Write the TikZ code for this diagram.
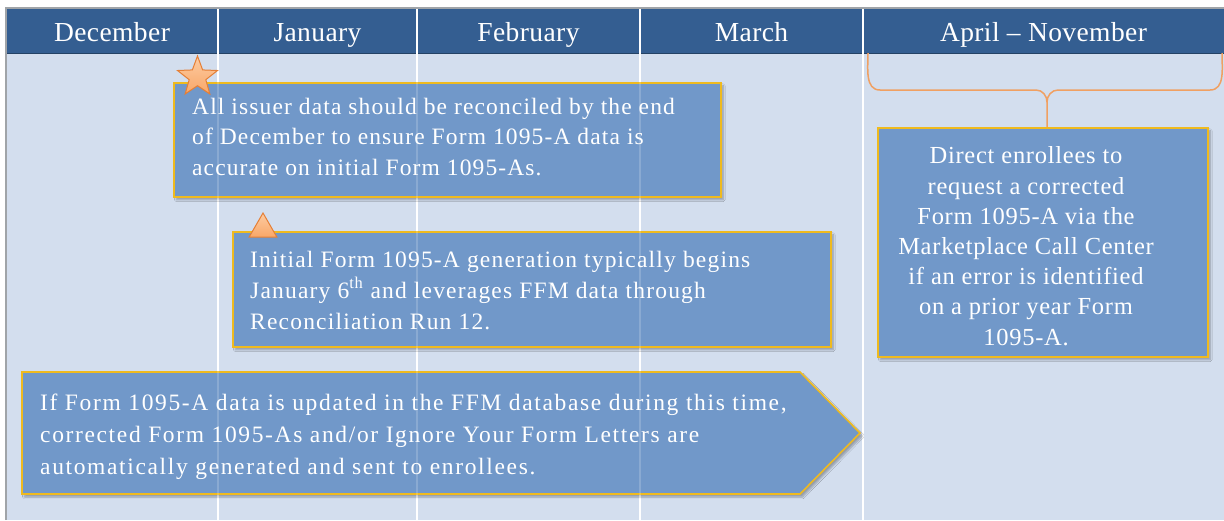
\documentclass[tikz,border=0pt]{standalone}
\usepackage{fontspec}
\setmainfont{Liberation Serif}
\newfontfamily\headfont[LetterSpace=1.5]{Liberation Serif}
\newfontfamily\afont[LetterSpace=4.8]{Liberation Serif}
\newfontfamily\bfont[LetterSpace=5.1]{Liberation Serif}
\newfontfamily\cfont[LetterSpace=7]{Liberation Serif}
\newfontfamily\sidefont[LetterSpace=3]{Liberation Serif}
\usetikzlibrary{shapes.geometric,shadows.blur}

\definecolor{headblue}{HTML}{345E91}
\definecolor{bodybg}{HTML}{D3DEEE}
\definecolor{boxfill}{HTML}{7198C9}
\definecolor{boxline}{HTML}{EFBA1E}
\definecolor{bracecol}{HTML}{F0A062}
\definecolor{starfill}{HTML}{F9A768}
\definecolor{starlight}{HTML}{FCCBA2}
\definecolor{starline}{HTML}{E57F36}
\definecolor{framegray}{HTML}{A0A4A8}

\tikzset{
  headcell/.style={fill=headblue, text=white, inner sep=0pt,
    minimum height=45pt, text height=26pt, text depth=5pt,
    font=\headfont\fontsize{27.5}{30}\selectfont},
  divider/.style={white, line width=1.4pt},
  infobox/.style={fill=boxfill, draw=boxline, line width=1.6pt, inner sep=0pt,
    blur shadow={shadow xshift=2.5pt, shadow yshift=-3pt, shadow blur steps=6, shadow opacity=30}},
  boxtext/.style={text=white, inner sep=0pt, align=left},
  sidetext/.style={text=white, inner sep=0pt, align=center,
    font=\sidefont\fontsize{24.5}{30.2}\selectfont},
  marker/.style={top color=starlight, bottom color=starfill, draw=starline,
    line width=1pt, inner sep=0pt},
  bracket/.style={draw=bracecol, line width=1.5pt}
}

\begin{document}
\begin{tikzpicture}[x=1pt,y=-1pt]
\useasboundingbox (0,0) rectangle (1224,520);
\fill[white] (0,0) rectangle (1224,520);
\fill[bodybg] (6,53) rectangle (1224,520);

% month header
\node[headcell, minimum width=212pt] (dec) at (112,30.5) {December};
\node[headcell, minimum width=199pt] (jan) at (317.5,30.5) {January};
\node[headcell, minimum width=223pt] (feb) at (528.5,30.5) {February};
\node[headcell, minimum width=223pt] (mar) at (751.5,30.5) {March};
\node[headcell, minimum width=361pt] (apr) at (1043.5,30.5) {April – November};
\draw[headblue!70!black, line width=1pt] (6,53) -- (1224,53);

% column dividers
\foreach \xx in {218,417,640,863}
  \draw[divider] (\xx,9) -- (\xx,520);

% outer frame
\draw[framegray, line width=1.3pt] (6,520) -- (6,8) -- (1224,8);

% brace over April - November
\node[infobox, minimum width=330pt, minimum height=229pt, anchor=north west] (dbox) at (877,127) {};
\coordinate (braceL) at (868,53);
\coordinate (braceR) at (1222,53);
\coordinate (braceM) at (1047,102);
\draw[bracket] (braceL) to[out=-90,in=180] (880,90) -- (1036,90)
  to[out=0,in=90] (braceM) -- (dbox.north -| braceM);
\draw[bracket] (braceR) to[out=-90,in=0] (1210,90) -- (1058,90)
  to[out=180,in=90] (braceM);

% info boxes
\node[infobox, minimum width=547pt, minimum height=114pt, anchor=north west] (abox) at (173,82) {};
\node[infobox, minimum width=598pt, minimum height=115pt, anchor=north west] (bbox) at (232,231) {};
\fill[boxfill, draw=boxline, line width=1.6pt,
  blur shadow={shadow xshift=2.5pt, shadow yshift=-3pt, shadow blur steps=6, shadow opacity=30}]
  (22,372) -- (800,372) -- (860,433) -- (800,494) -- (22,494) -- cycle;
\coordinate (cbox) at (22,433);

% faint dividers seen through the boxes
\foreach \xx in {218,417,640,863}
  \draw[white, opacity=0.18, line width=1.4pt] (\xx,60) -- (\xx,520);

% markers
\node[marker, star, star points=5, star point ratio=2.4, minimum size=42pt] (star) at (197.5,77) {};
\node[marker, regular polygon, regular polygon sides=3, minimum size=32pt] (tri) at (263,229) {};

% texts (anchored at the baseline of their last line)
\node[boxtext, anchor=base west, font=\afont\fontsize{23.5}{30.5}\selectfont] (atext) at (192,175)
{All issuer data should be reconciled by the end\\
of December to ensure Form 1095-A data is\\
accurate on initial Form 1095-As.};
\node[boxtext, anchor=base west, font=\bfont\fontsize{23.5}{31}\selectfont] (btext) at (250,329)
{Initial Form 1095-A generation typically begins\\
January 6\textsuperscript{th} and leverages FFM data through\\
Reconciliation Run 12.};
\node[boxtext, anchor=base west, font=\cfont\fontsize{23.5}{32}\selectfont] (ctext) at (40,474)
{If Form 1095-A data is updated in the FFM database during this time,\\
corrected Form 1095-As and/or Ignore Your Form Letters are\\
automatically generated and sent to enrollees.};
\node[sidetext, anchor=base] (dtext) at (1026,345) {Direct enrollees to\\
request a corrected\\
Form 1095-A via the\\
Marketplace Call Center\\
if an error is identified\\
on a prior year Form\\
1095-A.};
\end{tikzpicture}
\end{document}
